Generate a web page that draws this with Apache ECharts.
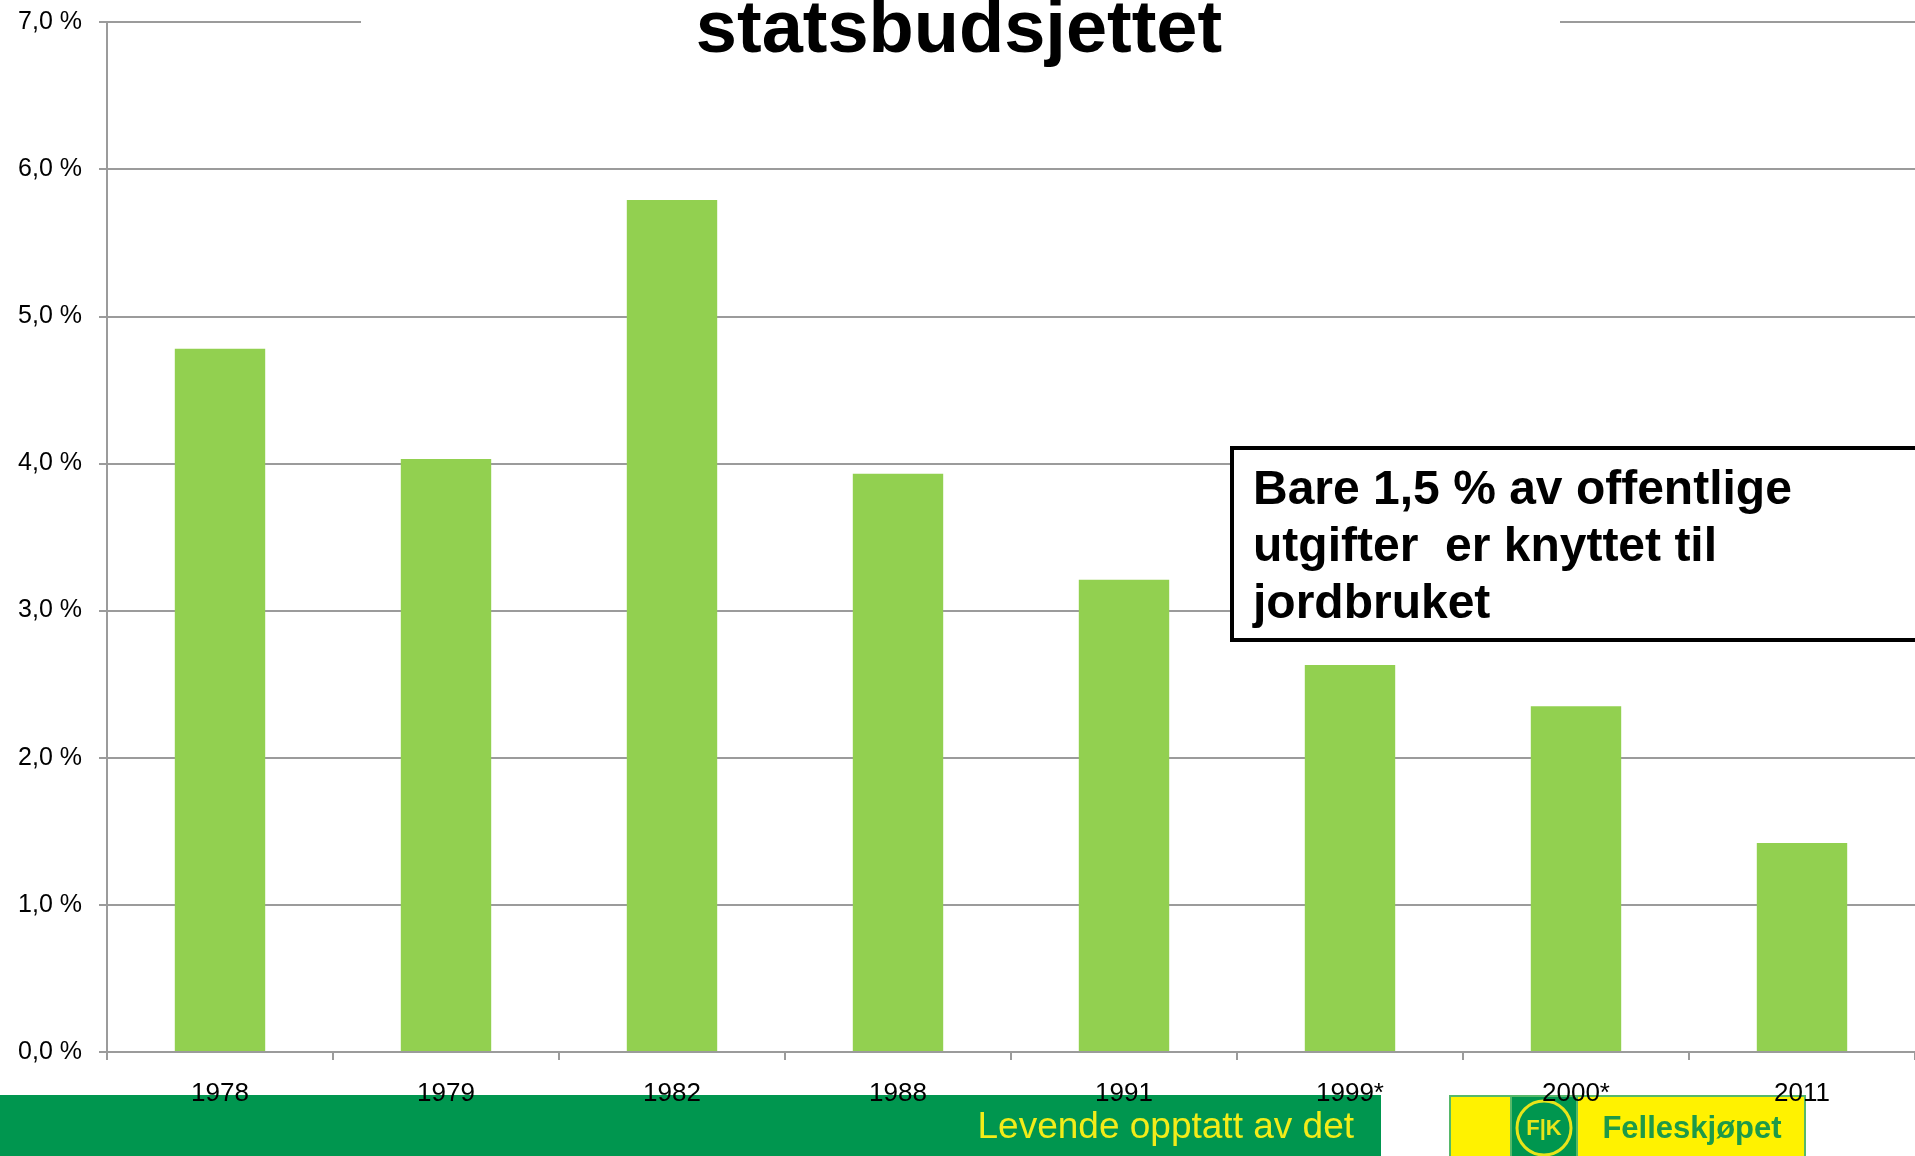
<!DOCTYPE html>
<html><head><meta charset="utf-8">
<script src="https://cdn.jsdelivr.net/npm/echarts@6/dist/echarts.min.js"></script>
<style>html,body{margin:0;padding:0;background:#fff}#c{width:1915px;height:1156px}</style>
</head><body><div id="c"></div>
<script>
const categories = ['1978','1979','1982','1988','1991','1999*','2000*','2011'];
const values = [4.78, 4.03, 5.79, 3.93, 3.21, 2.63, 2.35, 1.42];
const yTicks = [0,1,2,3,4,5,6,7];
const titleText = 'statsbudsjettet';
const noteLines = ['Bare 1,5 % av offentlige', 'utgifter  er knyttet til', 'jordbruket'];
const footerText = 'Levende opptatt av det';
const logoText = 'Felleskjøpet';

const chart = echarts.init(document.getElementById('c'));
const F = 'Liberation Sans, Arial, sans-serif';
const grey = '#9b9b9b';
chart.setOption({
  animation: false,
  grid: { left: 107, width: 1812, top: 22, bottom: 104 },
  xAxis: {
    type: 'category', data: categories,
    axisLine: { lineStyle: { color: grey, width: 2 } },
    axisTick: { show: true, length: 8, lineStyle: { color: grey, width: 2 } },
    axisLabel: { color: '#000', fontFamily: F, fontSize: 26, margin: 29 },
    z: 5
  },
  yAxis: {
    type: 'value', min: 0, max: 7, interval: 1,
    axisLine: { show: true, lineStyle: { color: grey, width: 2 } },
    axisTick: { show: true, length: 8, lineStyle: { color: grey, width: 2 } },
    splitLine: { lineStyle: { color: grey, width: 2 } },
    axisLabel: { color: '#000', fontFamily: F, fontSize: 25, margin: 25,
      formatter: v => yTicks.includes(v) ? v.toFixed(1).replace('.', ',') + ' %' : '' }
  },
  series: [{
    type: 'bar', data: values, barWidth: '40%',
    itemStyle: { color: '#92D050' }, z: 2
  }],
  graphic: [
    { type: 'rect', z: 50, shape: { x: 361, y: 0, width: 1199, height: 42 }, style: { fill: '#fff' } },
    { type: 'text', z: 51, x: 959, y: 69, style: { text: titleText, font: 'bold 74px ' + F, fill: '#000', textAlign: 'center', textVerticalAlign: 'bottom' } },
    { type: 'rect', z: 50, shape: { x: 1232, y: 448, width: 700, height: 192 }, style: { fill: '#fff', stroke: '#000', lineWidth: 4 } },
    { type: 'text', z: 51, x: 1253, y: 491, style: { text: noteLines[0], font: 'bold 48px ' + F, fill: '#000', textVerticalAlign: 'middle' } },
    { type: 'text', z: 51, x: 1253, y: 548, style: { text: noteLines[1], font: 'bold 48px ' + F, fill: '#000', textVerticalAlign: 'middle' } },
    { type: 'text', z: 51, x: 1253, y: 605, style: { text: noteLines[2], font: 'bold 48px ' + F, fill: '#000', textVerticalAlign: 'middle' } },
    { type: 'rect', z: -10, shape: { x: 0, y: 1095, width: 1381, height: 61 }, style: { fill: '#00964F' } },
    { type: 'text', z: -9, x: 1354, y: 1128, style: { text: footerText, font: '37px ' + F, fill: '#F3EC19', textAlign: 'right', textVerticalAlign: 'middle' } },
    { type: 'rect', z: -10, shape: { x: 1449, y: 1095, width: 357, height: 61 }, style: { fill: '#56B86A' } },
    { type: 'rect', z: -9, shape: { x: 1451, y: 1097, width: 59, height: 59 }, style: { fill: '#FFF200' } },
    { type: 'rect', z: -9, shape: { x: 1512, y: 1097, width: 64, height: 59 }, style: { fill: '#00964F' } },
    { type: 'circle', z: -8, shape: { cx: 1544, cy: 1128, r: 27 }, style: { fill: 'none', stroke: '#E8E41A', lineWidth: 3 } },
    { type: 'text', z: -8, x: 1544, y: 1129, style: { text: 'F|K', font: 'bold 22px ' + F, fill: '#E8E41A', textAlign: 'center', textVerticalAlign: 'middle' } },
    { type: 'rect', z: -9, shape: { x: 1578, y: 1097, width: 226, height: 59 }, style: { fill: '#FFF200' } },
    { type: 'text', z: -8, x: 1692, y: 1129, style: { text: logoText, font: 'bold 31px ' + F, fill: '#1E9A48', textAlign: 'center', textVerticalAlign: 'middle' } }
  ]
});
</script></body></html>
